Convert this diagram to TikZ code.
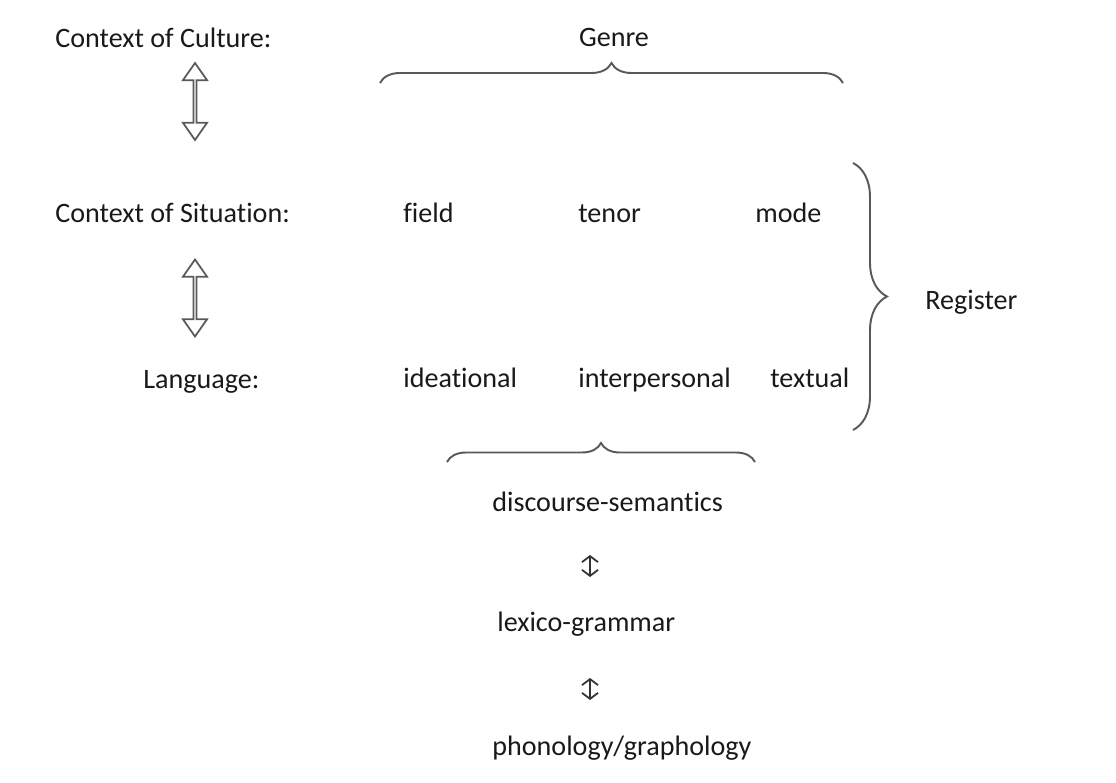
\documentclass[tikz,border=0pt]{standalone}
\usepackage{fontspec}
\setmainfont[Ligatures=NoCommon]{Carlito}
\usetikzlibrary{shapes.arrows,decorations.pathreplacing,arrows.meta}

\begin{document}
\begin{tikzpicture}[x=0.02cm,y=-0.02cm,
    every node/.style={font=\fontsize{16}{19}\selectfont,text=black!90,inner sep=0pt,anchor=base west},
    bigarrow/.style={double arrow,draw=black!65,line width=1pt,shape border rotate=90,
      minimum height=1.54cm,minimum width=0.48cm,double arrow head extend=0.12cm,
      double arrow tip angle=70,anchor=center},
    bracket/.style={decorate,decoration={brace,amplitude=#1},draw=black!65,line width=1.1pt},
    updown/.style={{Straight Barb[length=0.12cm,width=0.32cm]}-{Straight Barb[length=0.12cm,width=0.32cm]},
      draw=black!80,line width=1pt}
]
\useasboundingbox (0,0) rectangle (1116,783);

% contexts
\node (culture) at (55,48) {Context of Culture:};
\node (situation) at (55,223) {Context of Situation:};
\node (language) at (143,389) {Language:};

\node[bigarrow] (a1) at (195,101.5) {};
\node[bigarrow] (a2) at (195,298) {};

% genre
\node[anchor=base] (genre) at (614,47) {Genre};
\coordinate (g1) at (380,83);
\coordinate (g2) at (843,83);
\draw[bracket=0.4cm] (g1) -- (g2);

% register variables
\node (field) at (403,223) {field};
\node (tenor) at (578,223) {tenor};
\node (mode) at (755,223) {mode};

\node (ideational) at (403,388) {ideational};
\node (interpersonal) at (578,388) {interpersonal};
\node (textual) at (770,388) {textual};

\coordinate (r1) at (853,163);
\coordinate (r2) at (853,430);
\draw[bracket=0.68cm] (r1) -- (r2);
\node (register) at (925,310) {Register};

% strata
\coordinate (b1) at (447,462);
\coordinate (b2) at (755,462);
\draw[bracket=0.38cm] (b1) -- (b2);

\node (semantics) at (492,512) {discourse-semantics};
\node (grammar) at (497,632) {lexico-grammar};
\node (phonology) at (492,755) {phonology/graphology};

\coordinate (s1) at (590,555);
\coordinate (s2) at (590,577);
\coordinate (s3) at (590,678);
\coordinate (s4) at (590,700);
\draw[updown] (s1) -- (s2);
\draw[updown] (s3) -- (s4);

\end{tikzpicture}
\end{document}
